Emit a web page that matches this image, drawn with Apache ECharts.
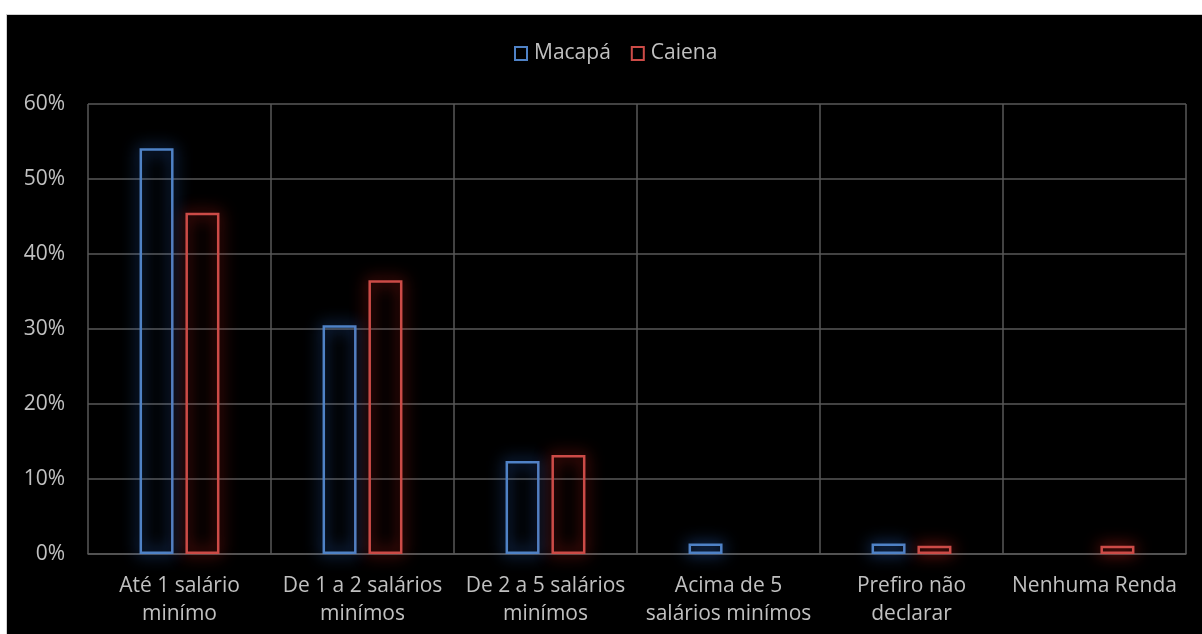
<!DOCTYPE html>
<html>
<head>
<meta charset="utf-8">
<script src="https://cdn.jsdelivr.net/npm/echarts@6/dist/echarts.min.js"></script>
<style>
  html, body { margin: 0; padding: 0; background: #ffffff; width: 1202px; height: 634px; overflow: hidden; }
  #chart { position: absolute; left: 6px; top: 14px; width: 1196px; height: 620px; background: #000000;
           border-top: 1px solid #d0d0d0; border-left: 1px solid #d0d0d0; box-sizing: border-box; }
</style>
</head>
<body>
<div id="chart"></div>
<script>
// Income brackets (line breaks as shown under the axis)
const categories = [
  'Até 1 salário\nminímo',
  'De 1 a 2 salários\nminímos',
  'De 2 a 5 salários\nminímos',
  'Acima de 5\nsalários minímos',
  'Prefiro não\ndeclarar',
  'Nenhuma Renda'
];
// Share of respondents, in percent
const macapa = [54.1, 30.5, 12.4, 1.4, 1.4, 0];
const caiena = [45.5, 36.5, 13.2, 0, 1.1, 1.1];
const yTicks = [0, 10, 20, 30, 40, 50, 60];

const FONT = 'Open Sans';
const TEXT = '#c0c0c0';
const GRID = '#585858';
const BLUE = '#4f82c6';
const RED = '#cc4b47';

// Outlined bars with a soft glow; empty categories draw no outline
function outlinedBar(name, data, color, glow) {
  return {
    name: name,
    type: 'bar',
    data: data.map(v => v === 0
      ? { value: v, itemStyle: { borderWidth: 0, shadowBlur: 0 } }
      : v),
    barWidth: 34,
    barGap: '35%',
    itemStyle: {
      color: 'rgba(0,0,0,0)',
      borderColor: color,
      borderWidth: 2.5,
      shadowBlur: 16,
      shadowColor: glow
    }
  };
}

const chart = echarts.init(document.getElementById('chart'), null, { renderer: 'canvas' });
chart.setOption({
  backgroundColor: '#000000',
  animation: false,
  textStyle: { fontFamily: FONT },
  legend: {
    top: 23,
    left: 502,
    itemWidth: 12,
    itemHeight: 13,
    itemGap: 20,
    icon: 'rect',
    textStyle: { color: TEXT, fontSize: 21, fontFamily: FONT, padding: [0, 0, 0, 2] },
    data: [
      { name: 'Macapá', itemStyle: { color: 'rgba(0,0,0,0)', borderColor: BLUE, borderWidth: 2 } },
      { name: 'Caiena', itemStyle: { color: 'rgba(0,0,0,0)', borderColor: RED, borderWidth: 2 } }
    ]
  },
  grid: { left: 81, right: 16, top: 89, bottom: 80, containLabel: false },
  xAxis: {
    type: 'category',
    data: categories,
    axisLine: { show: true, lineStyle: { color: GRID, width: 1.5 } },
    axisTick: { show: false },
    splitLine: { show: true, lineStyle: { color: GRID, width: 1.5 } },
    axisLabel: {
      color: TEXT, fontSize: 21, fontFamily: FONT, margin: 18, lineHeight: 28, interval: 0
    }
  },
  yAxis: {
    type: 'value',
    min: yTicks[0],
    max: yTicks[yTicks.length - 1],
    interval: 10,
    axisLine: { show: false },
    axisTick: { show: false },
    splitLine: { show: true, lineStyle: { color: GRID, width: 1.5 } },
    axisLabel: {
      color: TEXT, fontSize: 21, fontFamily: FONT, margin: 23,
      formatter: v => v + '%'
    }
  },
  series: [
    outlinedBar('Macapá', macapa, BLUE, 'rgba(50,120,230,1)'),
    outlinedBar('Caiena', caiena, RED, 'rgba(230,40,30,1)')
  ]
});
</script>
</body>
</html>
